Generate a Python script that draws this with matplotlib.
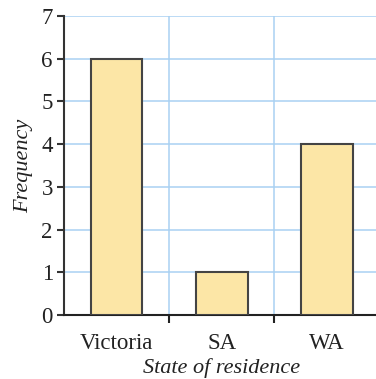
import matplotlib.pyplot as plt
import numpy as np

states = ["Victoria", "SA", "WA"]
freq = [6, 1, 4]
yticks = [0, 1, 2, 3, 4, 5, 6, 7]

plt.rcParams['font.family'] = ['Liberation Serif', 'DejaVu Serif']

fig = plt.figure(figsize=(3.76, 3.79), dpi=100)
ax = fig.add_axes([0.170, 0.169, 0.84, 0.789])

x = np.arange(len(states))
ax.bar(x, freq, width=0.49, color="#fce6a6", edgecolor="#444444", linewidth=1.5, zorder=3)

ax.set_xlim(-0.5, 2.5)
ax.set_ylim(0, 7)
ax.set_yticks(yticks)
ax.set_xticks(x)
ax.set_xticklabels(states)
ax.set_xticks([0.5, 1.5], minor=True)

ax.grid(True, axis="y", color="#a9d1f2", linewidth=1.1, zorder=0)
ax.grid(True, axis="x", which="minor", color="#a9d1f2", linewidth=1.1, zorder=0)

ax.tick_params(axis="x", which="major", length=0, pad=13, labelsize=16.5, labelcolor="#222222")
ax.tick_params(axis="x", which="minor", length=6, width=1.5, color="#222222", direction="out")
ax.tick_params(axis="y", length=5, width=1.5, color="#333333", pad=3, labelsize=16.5, labelcolor="#222222")

for s in ["top", "right"]:
    ax.spines[s].set_visible(False)
ax.spines["left"].set_linewidth(1.5)
ax.spines["left"].set_color("#333333")
ax.spines["bottom"].set_linewidth(1.5)
ax.spines["bottom"].set_color("#222222")

ax.set_xlabel("State of residence", fontsize=16, style="italic", color="#222222", labelpad=3)
ax.set_ylabel("Frequency", fontsize=16, style="italic", color="#222222", labelpad=6)

fig.savefig("out.png", dpi=100)
